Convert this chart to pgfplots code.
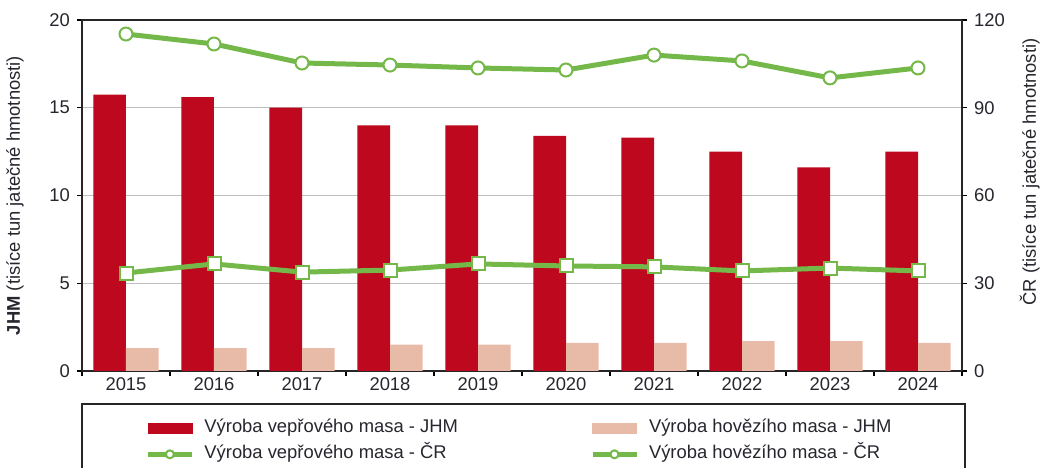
\documentclass[border=0pt]{standalone}
\usepackage{fontspec}
\setmainfont{Liberation Sans}
\usepackage{pgfplots}
\pgfplotsset{compat=1.18}
\definecolor{porkred}{RGB}{190,8,30}
\definecolor{beefpink}{RGB}{232,186,168}
\definecolor{lgreen}{RGB}{116,184,74}
\definecolor{tickc}{RGB}{38,38,46}

\pgfplotstableread{
x pork beef porkcr beefcr
0 15.75 1.3 115.2 33.5
1 15.6 1.3 111.8 36.6
2 15.0 1.3 105.3 33.8
3 14.0 1.5 104.6 34.5
4 14.0 1.5 103.6 36.6
5 13.4 1.6 102.9 35.9
6 13.3 1.6 108.0 35.6
7 12.5 1.7 106.0 34.2
8 11.6 1.7 100.2 35.2
9 12.5 1.6 103.6 34.2
}\datatable

\pgfplotsset{
  lineleg/.style={legend image code/.code={\draw[mark repeat=2,mark phase=2,##1,mark=*,mark size=2pt] plot coordinates {(0pt,0pt) (11pt,0pt) (22pt,0pt)};}},
  common/.style={
    scale only axis, width=440pt, height=175.5pt,
    xmin=-0.5, xmax=9.5,
    /pgf/number format/assume math mode=true,
    tick align=outside,
    major tick length=2.5pt,
    minor tick length=2.5pt,
    tick style={black, line width=0.7pt},
    axis line style={black!85, line width=0.7pt},
    ticklabel style={font=\fontsize{9.2}{11}\selectfont, text=tickc},
    label style={font=\fontsize{9.2}{11}\selectfont, text=tickc},
  }
}

\begin{document}
\begin{tikzpicture}[font=\fontsize{9.2}{11}\selectfont]
\begin{axis}[common, name=ax,
  ymin=0, ymax=20, ytick={0,5,10,15,20},
  ytick pos=left, xtick pos=bottom,
  xtick={-0.5,0.5,...,9.5}, xticklabels={},
  extra x ticks={0,1,2,3,4,5,6,7,8,9},
  extra x tick labels={2015,2016,2017,2018,2019,2020,2021,2022,2023,2024},
  extra x tick style={major tick length=0pt, grid=none},
  ymajorgrids, grid style={black!25, line width=0.6pt},
  ylabel={\textbf{JHM} (tisíce tun jatečné hmotnosti)},
  ylabel style={at={(axis description cs:-0.076,0.5)}, anchor=center},
]
\addplot[ybar, bar width=0.37, bar shift=-0.185, fill=porkred, draw=none] table[x=x, y=pork] {\datatable};
\addplot[ybar, bar width=0.37, bar shift=0.185, fill=beefpink, draw=none] table[x=x, y=beef] {\datatable};
\end{axis}
\begin{axis}[common,
  axis y line*=right, axis x line=none,
  ymin=0, ymax=120, ytick={0,30,60,90,120},
  ylabel={ČR (tisíce tun jatečné hmotnosti)},
  ylabel style={at={(axis description cs:1.077,0.567)}, anchor=center},
  legend columns=2,
  legend cell align=left,
  legend style={at={(axis description cs:0.0716,-0.128)}, anchor=north west,
    draw=none, fill=none, inner xsep=0pt, inner ysep=0pt, row sep=1pt,
    font=\fontsize{9.2}{11}\selectfont, text=tickc,
    nodes={text height=6.5pt, text depth=2pt, inner ysep=1.75pt},
    /tikz/every odd column/.append style={column sep=3pt},
    /tikz/every even column/.append style={column sep=64pt}},
]
\addlegendimage{legend image code/.code={\fill[porkred] (0pt,-2.5pt) rectangle (22pt,2.5pt);}}
\addlegendentry{Výroba vepřového masa - JHM}
\addlegendimage{legend image code/.code={\fill[beefpink] (0pt,-2.5pt) rectangle (22pt,2.5pt);}}
\addlegendentry{Výroba hovězího masa - JHM}
\addplot[lgreen, line width=2.5pt, mark=*, mark size=3.25pt,
  mark options={fill=white, draw=lgreen, line width=1pt}, lineleg]
  table[x=x, y=porkcr] {\datatable};
\addlegendentry{Výroba vepřového masa - ČR}
\addplot[lgreen, line width=2.5pt, mark=square*, mark size=3.25pt,
  mark options={fill=white, draw=lgreen, line width=1pt}, lineleg]
  table[x=x, y=beefcr] {\datatable};
\addlegendentry{Výroba hovězího masa - ČR}
\end{axis}
\draw[black!85, line width=0.8pt] ([shift={(0pt,-16.5pt)}]ax.south west) rectangle ([shift={(441.5pt,-62pt)}]ax.south west);
\pgfresetboundingbox
\path[use as bounding box] ([shift={(-41pt,-48.5pt)}]ax.south west) rectangle ([shift={(41.5pt,10pt)}]ax.north east);
\end{tikzpicture}
\end{document}
